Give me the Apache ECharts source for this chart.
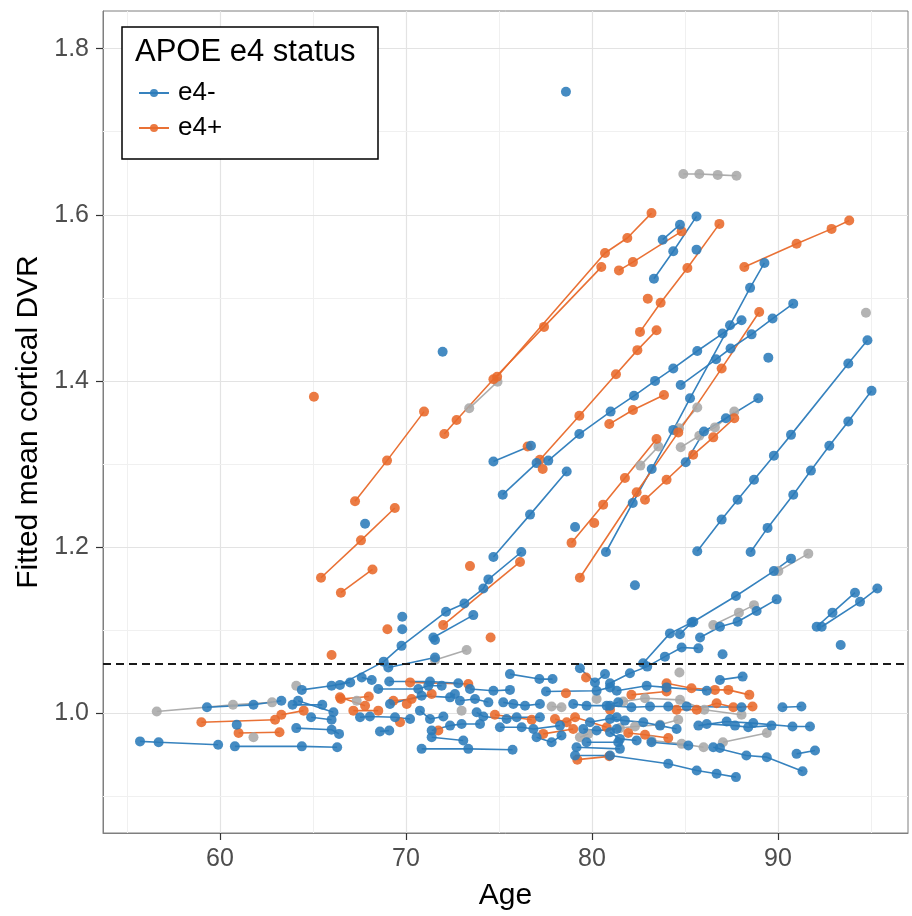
<!DOCTYPE html>
<html>
<head>
<meta charset="utf-8">
<script src="https://cdn.jsdelivr.net/npm/echarts@6/dist/echarts.min.js"></script>
<style>
html,body{margin:0;padding:0;background:#fff;}
#chart{width:912px;height:916px;}
</style>
</head>
<body>
<div id="chart"></div>
<script>
// ---- data ----
const xTicks = [60, 70, 80, 90];
const xMinor = [55, 65, 75, 85, 95];
const yTicks = [1.0, 1.2, 1.4, 1.6, 1.8];
const yMinor = [0.9, 1.1, 1.3, 1.5, 1.7];
const threshold = 1.0614;
const legendNames = ['e4-', 'e4+'];

// each subject: list of [age, fitted DVR]
const e4Neg = [
 [[55.7,0.966],[56.7,0.965],[59.9,0.962]],
 [[60.8,0.960],[64.4,0.960],[66.3,0.959]],
 [[59.3,1.007],[61.8,1.010],[63.3,1.015]],
 [[63.9,1.010],[65.5,1.010]],
 [[64.4,1.028],[66.0,1.033],[67.0,1.037]],
 [[64.1,0.982],[66.0,0.980],[66.4,0.975]],
 [[60.9,0.986]],
 [[64.9,0.995],[66.0,0.992]],
 [[64.2,1.015],[66.1,1.001]],
 [[67.8,1.228]],
 [[69.8,1.116]],
 [[69.8,1.101]],
 [[66.45,1.034],[68.8,1.062],[69.76,1.081],[72.15,1.122],[73.14,1.132],[74.16,1.150],[74.43,1.161],[76.2,1.194]],
 [[74.7,1.188],[76.67,1.239],[78.64,1.291]],
 [[71.47,1.091],[73.62,1.118]],
 [[71.97,1.435]],
 [[74.7,1.303],[76.72,1.322]],
 [[75.2,1.263],[77.02,1.301]],
 [[77.65,1.304],[79.32,1.336],[81.0,1.363],[82.26,1.382],[83.39,1.400],[84.37,1.415],[85.66,1.436],[87.02,1.457],[88.04,1.473]],
 [[79.09,1.224]],
 [[80.75,1.194],[82.19,1.253],[83.21,1.294],[84.37,1.341],[85.27,1.379],[87.42,1.467],[88.5,1.512],[89.27,1.542]],
 [[82.31,1.154]],
 [[78.6,1.748]],
 [[83.33,1.523],[84.37,1.556],[85.62,1.598]],
 [[83.8,1.570],[84.73,1.588]],
 [[85.62,1.558]],
 [[84.77,1.395],[86.67,1.426],[87.45,1.439],[88.58,1.456],[89.71,1.475],[90.82,1.493]],
 [[89.48,1.428]],
 [[85.04,1.302],[86.02,1.339],[87.2,1.355],[88.94,1.379]],
 [[85.66,1.195],[86.97,1.233],[87.83,1.257],[88.71,1.281],[89.78,1.310],[90.7,1.335],[93.78,1.421],[94.81,1.449]],
 [[88.53,1.194],[89.44,1.223],[90.82,1.263],[91.77,1.292],[92.76,1.322],[93.78,1.351],[95.03,1.388]],
 [[82.75,1.060],[84.19,1.096],[85.45,1.110],[87.74,1.141],[89.78,1.171],[90.7,1.186]],
 [[85.81,1.091],[86.88,1.104],[87.83,1.110],[88.85,1.123],[89.93,1.137]],
 [[92.08,1.104],[92.93,1.121],[94.14,1.145]],
 [[92.35,1.104],[94.41,1.134],[95.34,1.150]],
 [[93.37,1.082]],
 [[80.97,1.036],[82.04,1.048],[82.97,1.056],[83.92,1.068],[84.82,1.079],[85.72,1.078]],
 [[84.73,1.095],[85.35,1.109]],
 [[87.02,1.071]],
 [[69.05,1.055],[71.56,1.067]],
 [[71.56,1.088]],
 [[67.62,1.043],[68.16,1.040]],
 [[69.1,1.038],[71.29,1.038],[72.81,1.036]],
 [[75.59,1.047],[77.17,1.041],[77.88,1.041]],
 [[79.35,1.054],[80.16,1.037],[80.7,1.047]],
 [[68.51,1.029],[70.66,1.029],[71.2,1.033],[71.92,1.033]],
 [[73.44,1.029],[74.7,1.027],[75.59,1.028]],
 [[77.53,1.026],[80.25,1.027],[80.97,1.031]],
 [[69.14,1.011],[70.84,1.021],[72.37,1.019],[72.63,1.023]],
 [[72.9,1.015],[73.71,1.017],[74.43,1.013]],
 [[75.23,1.013],[75.77,1.011],[76.4,1.009],[77.2,1.011]],
 [[78.99,1.011],[79.71,1.009],[80.79,1.009],[81.41,1.013]],
 [[67.53,0.995],[68.06,0.996],[69.41,0.995],[70.22,0.993]],
 [[70.75,1.003],[71.29,0.993],[72.01,0.996]],
 [[73.8,1.001],[74.16,0.996],[75.41,0.993],[75.95,0.995],[77.2,0.995]],
 [[79.89,0.989],[81.33,0.995]],
 [[68.6,0.978],[69.1,0.979]],
 [[71.38,0.979],[72.37,0.985],[72.99,0.987],[73.98,0.987]],
 [[75.05,0.983],[76.22,0.983],[76.85,0.981],[78.28,0.985]],
 [[79.53,0.981],[80.25,0.979],[81.33,0.981]],
 [[71.38,0.971],[73.08,0.967]],
 [[70.84,0.957],[73.35,0.957],[75.73,0.956]],
 [[77.02,0.971],[77.83,0.965],[78.36,0.973]],
 [[79.71,0.965],[81.41,0.965]],
 [[79.17,0.959],[81.5,0.957]],
 [[79.09,0.949],[80.97,0.949],[84.1,0.939],[85.63,0.931],[86.7,0.927],[87.74,0.923]],
 [[81.33,1.027],[82.94,1.033],[84.01,1.031],[86.17,1.027]],
 [[86.88,1.040],[88.1,1.044]],
 [[80.97,1.009],[82.12,1.007],[83.12,1.008],[84.1,1.008],[85.09,1.008],[88.04,1.007]],
 [[80.97,0.993],[81.77,0.991],[82.76,0.989],[83.66,0.985],[84.55,0.981]],
 [[85.72,0.985],[87.24,0.990],[88.67,0.988],[90.78,0.984],[91.72,0.984]],
 [[86.17,0.987],[87.69,0.985],[88.4,0.983],[89.65,0.985]],
 [[80.97,0.977],[81.5,0.969],[82.4,0.967]],
 [[83.2,0.965],[85.18,0.961]],
 [[86.52,0.959],[88.3,0.949],[89.4,0.947],[91.32,0.930]],
 [[90.24,1.007],[91.26,1.008]],
 [[91.0,0.951],[91.99,0.955]],
 [[86.88,0.958]]
];

const e4Pos = [
 [[59.0,0.989],[62.96,0.992]],
 [[63.3,0.998],[64.5,1.003]],
 [[61.0,0.976],[63.2,0.977]],
 [[66.0,1.070]],
 [[66.5,1.017],[68.0,1.020]],
 [[65.05,1.381]],
 [[67.26,1.255],[68.98,1.304],[70.97,1.363]],
 [[65.43,1.163],[67.58,1.208],[69.4,1.247]],
 [[66.5,1.145],[68.2,1.173]],
 [[69.0,1.101]],
 [[72.0,1.106],[76.13,1.182]],
 [[73.44,1.177]],
 [[74.55,1.091]],
 [[72.06,1.336],[72.72,1.353],[74.7,1.402],[77.42,1.465],[80.5,1.537]],
 [[74.9,1.405],[80.7,1.554],[81.9,1.572],[83.2,1.602]],
 [[76.54,1.321]],
 [[77.2,1.305],[79.32,1.358],[81.29,1.408],[82.44,1.437],[83.47,1.461]],
 [[77.35,1.294]],
 [[78.9,1.205],[80.6,1.251],[81.77,1.283],[83.47,1.330]],
 [[80.12,1.229]],
 [[79.35,1.163],[82.4,1.266],[84.64,1.338],[86.97,1.415],[88.99,1.483]],
 [[82.85,1.257],[84.01,1.281],[85.44,1.311],[86.52,1.332],[87.65,1.355]],
 [[80.93,1.348],[82.2,1.365],[83.87,1.383]],
 [[81.45,1.533],[82.2,1.543],[84.82,1.580]],
 [[82.58,1.459],[83.69,1.494],[85.13,1.536],[86.85,1.589]],
 [[83.0,1.499]],
 [[88.19,1.537],[91.0,1.565],[92.88,1.583],[93.83,1.593]],
 [[79.68,1.043]],
 [[70.22,1.037],[73.35,1.035]],
 [[78.6,1.024]],
 [[66.45,1.019],[67.8,1.009]],
 [[69.32,1.015],[70.3,1.017],[71.38,1.023]],
 [[70.04,1.011]],
 [[67.17,1.003],[68.51,1.003]],
 [[69.68,0.989]],
 [[74.78,0.998],[76.76,0.992]],
 [[78.01,0.993],[78.64,0.989],[79.09,0.995],[80.79,0.983]],
 [[71.74,0.979]],
 [[77.38,0.975],[78.99,0.981]],
 [[79.21,0.944],[80.93,0.948]],
 [[84.01,1.036],[85.35,1.030],[86.61,1.028],[87.33,1.028],[88.46,1.022]],
 [[82.12,1.022],[84.01,1.026]],
 [[84.55,1.004],[85.63,1.004],[86.7,1.012],[87.6,1.007],[88.63,1.008]],
 [[81.95,0.976],[82.85,0.974],[84.1,0.970]],
 [[80.97,1.004]]
];

const e4NA = [
 [[56.6,1.002],[60.7,1.010],[62.8,1.013]],
 [[61.8,0.971]],
 [[64.1,1.033]],
 [[73.4,1.367],[74.92,1.399]],
 [[82.6,1.298],[83.57,1.321]],
 [[84.91,1.649],[85.77,1.649],[86.76,1.648],[87.77,1.647]],
 [[84.68,1.343],[85.66,1.368]],
 [[84.77,1.320],[85.77,1.334],[86.61,1.344],[87.65,1.363]],
 [[94.73,1.482]],
 [[90.02,1.171],[91.63,1.192]],
 [[86.52,1.106],[87.9,1.121],[88.71,1.130]],
 [[71.56,1.064],[73.26,1.076]],
 [[77.83,1.008],[78.36,1.007]],
 [[80.25,1.017]],
 [[67.35,1.015]],
 [[72.99,1.003]],
 [[79.35,0.971],[79.8,0.975]],
 [[84.7,1.049]],
 [[81.68,1.014],[82.85,1.018],[84.73,1.016],[86.04,1.004],[88.04,0.998]],
 [[81.5,0.982],[82.31,0.984],[83.66,0.986],[84.64,0.992]],
 [[83.2,0.967],[84.82,0.963],[86.0,0.959]],
 [[87.04,0.965],[89.4,0.976]]
];

// ---- styling ----
const FONT = 'Liberation Sans, Arial, Helvetica, sans-serif';
const COLORS = { 'e4-': '#2B7BBA', 'e4+': '#E8692A', 'NA': '#A8A8A8' };

function subjectSeries(pts, name) {
  const c = COLORS[name];
  return {
    type: 'line', name: name, data: pts,
    symbol: 'circle', symbolSize: 10, showSymbol: true,
    lineStyle: { width: 1.6, color: c, opacity: 0.95 },
    itemStyle: { color: c, opacity: 0.88 },
    emphasis: { disabled: true }, silent: true,
    animation: false, z: 2
  };
}

const series = [];
// grid lines
const gridData = [];
xMinor.forEach(v => gridData.push({ xAxis: v, lineStyle: { color: '#F0F0F0', width: 1, type: 'solid' } }));
xTicks.forEach(v => gridData.push({ xAxis: v, lineStyle: { color: '#E3E3E3', width: 1.2, type: 'solid' } }));
yMinor.forEach(v => gridData.push({ yAxis: v, lineStyle: { color: '#F0F0F0', width: 1, type: 'solid' } }));
yTicks.forEach(v => gridData.push({ yAxis: v, lineStyle: { color: '#E3E3E3', width: 1.2, type: 'solid' } }));
series.push({
  type: 'line', name: 'grid', data: [], silent: true, animation: false,
  markLine: { silent: true, z: 1, animation: false, symbol: ['none', 'none'],
    label: { show: false }, emphasis: { disabled: true }, data: gridData }
});

const n = Math.max(e4Neg.length, e4Pos.length, e4NA.length);
for (let i = 0; i < n; i++) {
  if (i < e4NA.length) series.push(subjectSeries(e4NA[i], 'NA'));
  if (i < e4Neg.length) series.push(subjectSeries(e4Neg[i], 'e4-'));
  if (i < e4Pos.length) series.push(subjectSeries(e4Pos[i], 'e4+'));
}

series.push({
  type: 'line', name: 'threshold', data: [], silent: true, animation: false,
  markLine: { silent: true, z: 5, animation: false, symbol: ['none', 'none'],
    label: { show: false }, emphasis: { disabled: true },
    lineStyle: { color: '#1A1A1A', width: 2, type: [8, 5] },
    data: [{ yAxis: threshold }] }
});

const chart = echarts.init(document.getElementById('chart'), null, { renderer: 'canvas' });
chart.setOption({
  animation: false,
  backgroundColor: '#ffffff',
  textStyle: { fontFamily: FONT },
  grid: { left: 103, right: 4, top: 11, bottom: 82, show: true,
          borderColor: '#7F7F7F', borderWidth: 1, backgroundColor: 'transparent' },
  title: { text: 'APOE e4 status', left: 135, top: 37, padding: 0, z: 10,
           textStyle: { fontSize: 31, fontWeight: 'normal', color: '#000', fontFamily: FONT } },
  legend: {
    data: legendNames, orient: 'vertical', left: 138, top: 80, padding: 0,
    itemWidth: 30, itemHeight: 10, itemGap: 9, selectedMode: false, z: 10,
    textStyle: { fontSize: 26, color: '#000', lineHeight: 26, fontFamily: FONT, padding: [0, 0, 0, 4] }
  },
  graphic: [{
    type: 'rect', z: 8, silent: true,
    shape: { x: 122, y: 27, width: 256, height: 132 },
    style: { fill: '#ffffff', stroke: '#000000', lineWidth: 1.5 }
  }],
  xAxis: {
    type: 'value', min: 53.71, max: 96.99,
    name: 'Age', nameLocation: 'middle', nameGap: 48,
    nameTextStyle: { fontSize: 30, color: '#000', fontFamily: FONT },
    axisLine: { show: true, onZero: false, lineStyle: { color: '#7F7F7F', width: 1 } },
    axisTick: { show: true, customValues: xTicks, length: 7, lineStyle: { color: '#333', width: 1.2 } },
    axisLabel: { customValues: xTicks, fontSize: 25, color: '#4D4D4D', margin: 14, fontFamily: FONT },
    splitLine: { show: false }
  },
  yAxis: {
    type: 'value', min: 0.8557, max: 1.8453,
    name: 'Fitted mean cortical DVR', nameLocation: 'middle', nameGap: 58,
    nameTextStyle: { fontSize: 30, color: '#000', fontFamily: FONT },
    axisLine: { show: true, onZero: false, lineStyle: { color: '#7F7F7F', width: 1 } },
    axisTick: { show: true, customValues: yTicks, length: 7, lineStyle: { color: '#333', width: 1.2 } },
    axisLabel: { customValues: yTicks, fontSize: 25, color: '#4D4D4D', margin: 14, fontFamily: FONT,
                 formatter: v => Number(v).toFixed(1) },
    splitLine: { show: false }
  },
  series: series
});
</script>
</body>
</html>
